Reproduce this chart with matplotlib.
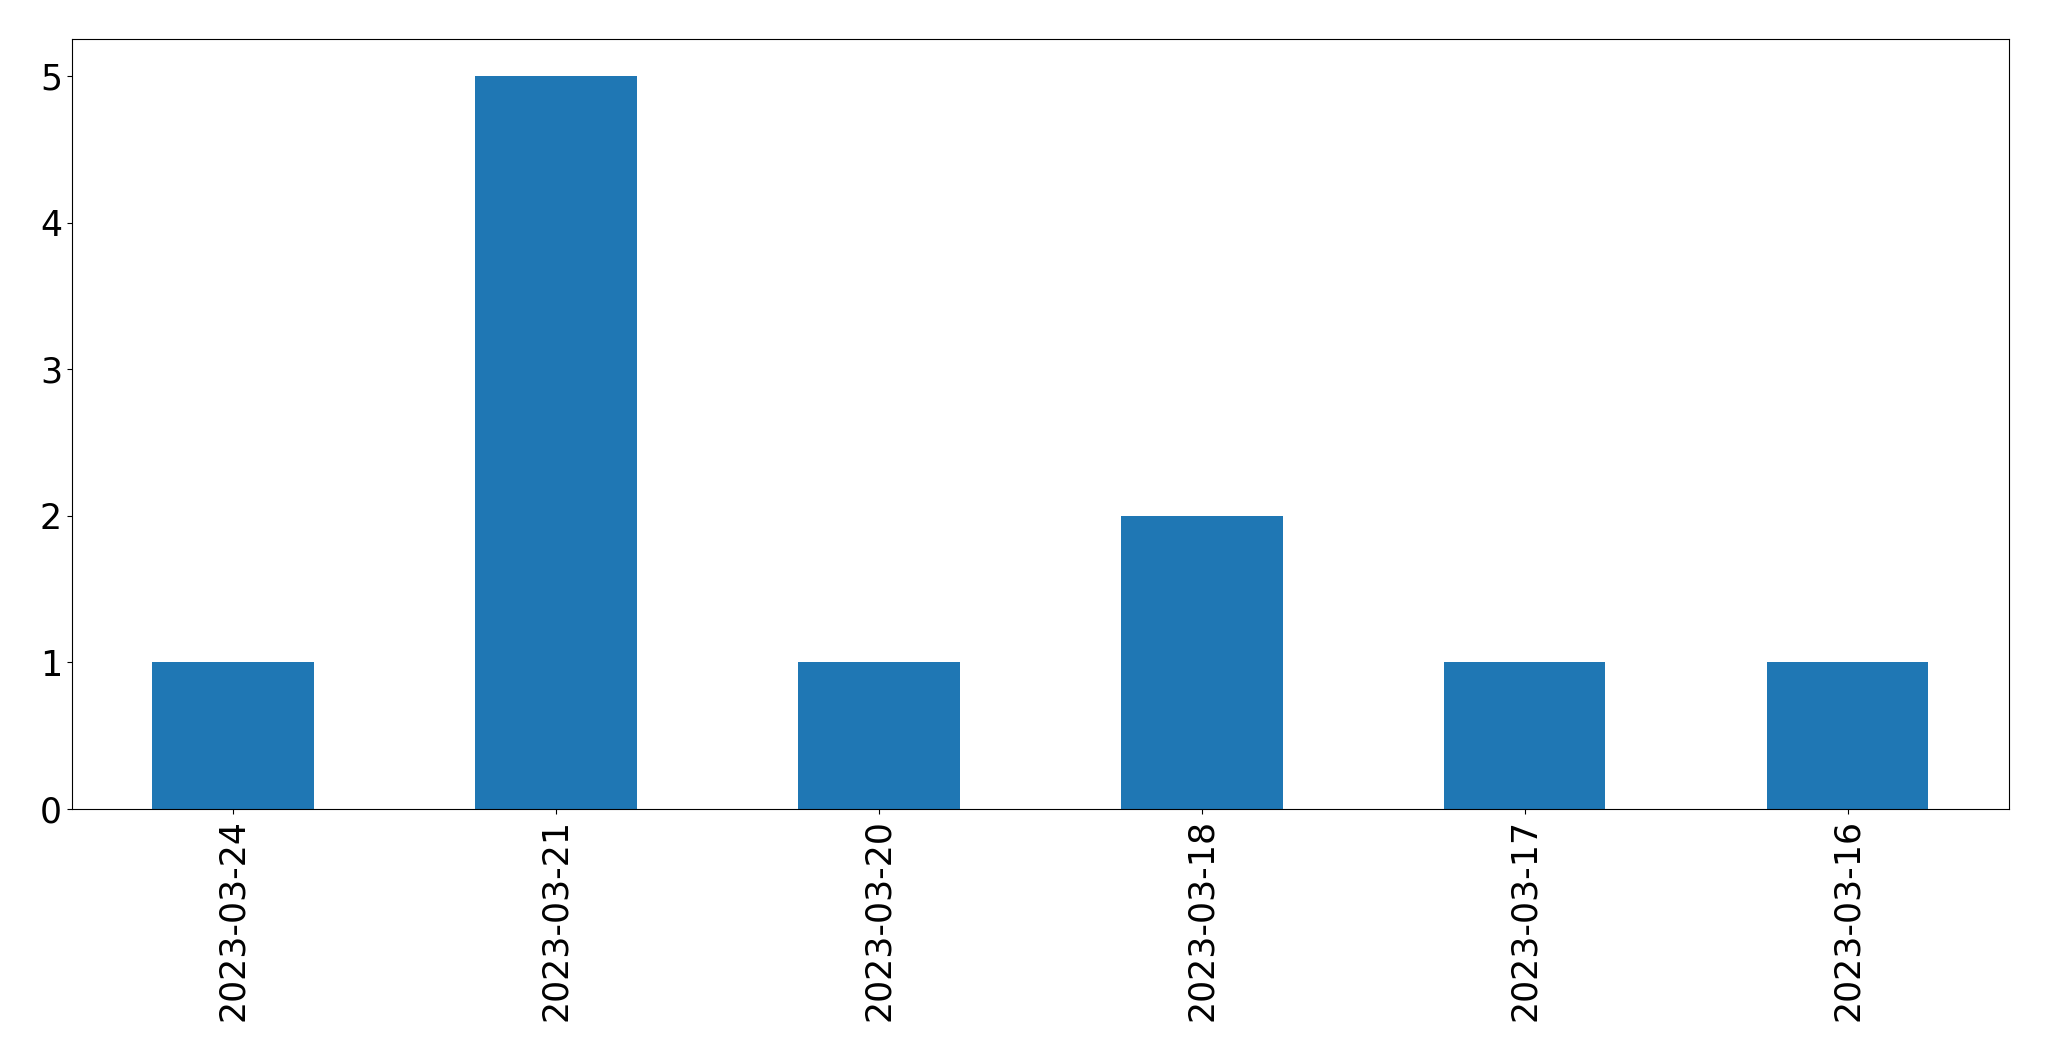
import pandas as pd
import matplotlib
matplotlib.use('Agg')
import matplotlib.pyplot as plt

dates = ['2023-03-24', '2023-03-21', '2023-03-20', '2023-03-18', '2023-03-17', '2023-03-16']
counts = [1, 5, 1, 2, 1, 1]

s = pd.Series(counts, index=dates)

fig, ax = plt.subplots(figsize=(20.49, 10.61), dpi=100)
s.plot(kind='bar', ax=ax, color='#1f77b4', fontsize=25)
fig.subplots_adjust(left=0.035, right=0.9805, top=0.963, bottom=0.2375)
fig.savefig('out.png', dpi=100)
